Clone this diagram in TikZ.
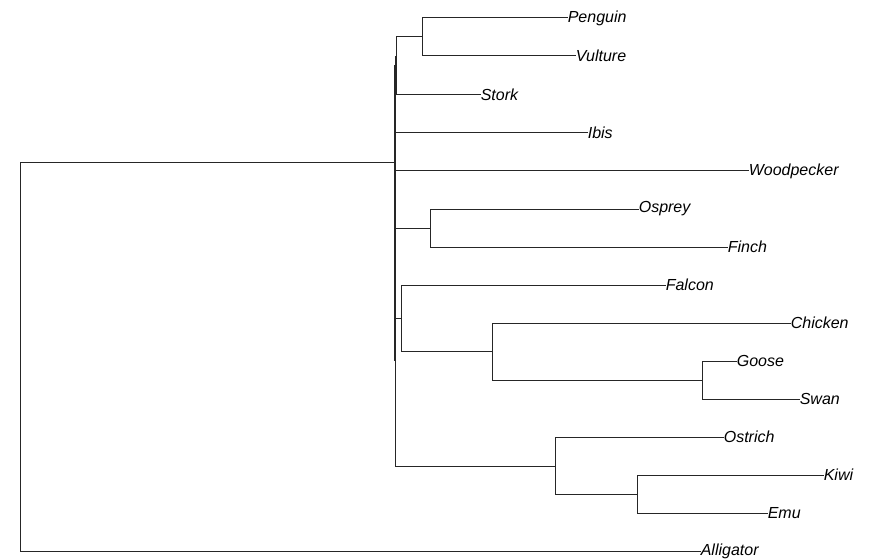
\documentclass[tikz,border=0pt]{standalone}
\usepackage{fontspec}
\setmainfont{Liberation Sans}
\begin{document}
\begin{tikzpicture}[x=1pt,y=-1pt,
  br/.style={line width=1pt, draw=black!85, line cap=rect},
  tip/.style={anchor=west, inner sep=0.6pt, font=\fontsize{16}{19}\selectfont\itshape}]
\useasboundingbox (0,0) rectangle (876,559);
% tips
\node[tip] (penguin) at (567,18) {Penguin};
\node[tip] (vulture) at (575,56) {Vulture};
\node[tip] (stork) at (480,95) {Stork};
\node[tip] (ibis) at (587,133) {Ibis};
\node[tip] (woodpecker) at (748,171) {Woodpecker};
\node[tip] (osprey) at (638,209) {Osprey};
\node[tip] (finch) at (727,247) {Finch};
\node[tip] (falcon) at (665,285) {Falcon};
\node[tip] (chicken) at (790,323) {Chicken};
\node[tip] (goose) at (736,361) {Goose};
\node[tip] (swan) at (799,399) {Swan};
\node[tip] (ostrich) at (723,437) {Ostrich};
\node[tip] (kiwi) at (823,475) {Kiwi};
\node[tip] (emu) at (767,513) {Emu};
\node[tip] (alligator) at (700,551) {Alligator};
% internal nodes
\coordinate (root) at (20,163);
\coordinate (birds) at (395,163);
\coordinate (bbtop) at (395,57);
\coordinate (bbbot) at (395,466);
\coordinate (pv) at (422,37);
\coordinate (sk) at (396,37);
\coordinate (sk2) at (396,95);
\coordinate (of) at (430,228);
\coordinate (fa) at (401,318);
\coordinate (ch) at (492,351);
\coordinate (gs) at (702,380);
\coordinate (os) at (555,466);
\coordinate (ke) at (637,494);
% root
\draw[br] (root) -- (birds);
\draw[br] (root) |- (alligator.west);
% backbone
\draw[br] (bbtop) -- (bbbot);
\draw[br, line width=1.4pt] (395,66) -- (395,360);
\draw[br] (sk) -- (sk2) -- (stork.west);
\draw[br] (sk) -- (pv);
\draw[br] (pv) |- (penguin.west);
\draw[br] (pv) |- (vulture.west);
\draw[br] (bbtop |- ibis.west) -- (ibis.west);
\draw[br] (bbtop |- woodpecker.west) -- (woodpecker.west);
\draw[br] (bbtop |- of) -- (of);
\draw[br] (of) |- (osprey.west);
\draw[br] (of) |- (finch.west);
\draw[br] (bbtop |- fa) -- (fa);
\draw[br] (fa) |- (falcon.west);
\draw[br] (fa) |- (ch);
\draw[br] (ch) |- (chicken.west);
\draw[br] (ch) |- (gs);
\draw[br] (gs) |- (goose.west);
\draw[br] (gs) |- (swan.west);
\draw[br] (bbbot) -- (os);
\draw[br] (os) |- (ostrich.west);
\draw[br] (os) |- (ke);
\draw[br] (ke) |- (kiwi.west);
\draw[br] (ke) |- (emu.west);
\end{tikzpicture}
\end{document}
